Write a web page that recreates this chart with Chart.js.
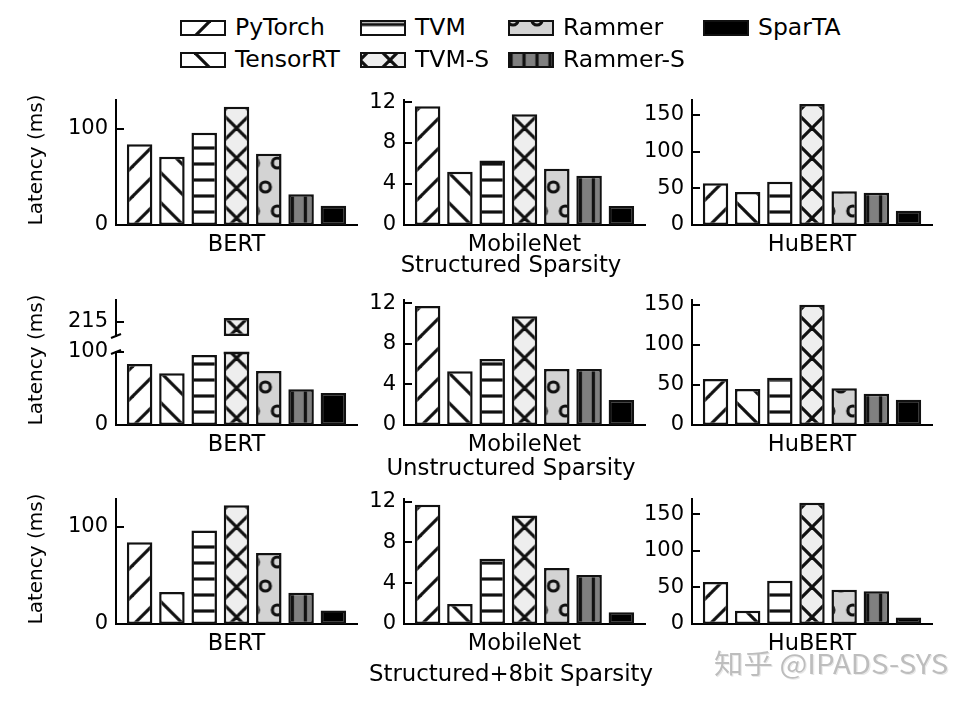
<!DOCTYPE html>
<html>
<head>
<meta charset="utf-8">
<script src="https://cdn.jsdelivr.net/npm/chart.js@4.4.0/dist/chart.umd.min.js"></script>
<style>
  html, body { margin: 0; padding: 0; background: #fff; }
  #wrap { position: relative; width: 974px; height: 706px; overflow: hidden; font-family: "DejaVu Sans", sans-serif; color: #000; }
  #wrap canvas { position: absolute; }
  .txt { position: absolute; white-space: nowrap; font-size: 22.8px; line-height: 1; transform: translate(-50%, -50%); }
  .ytitle { font-size: 20px; transform: translate(-50%, -50%) rotate(-90deg); }
  .leg { position: absolute; white-space: nowrap; font-size: 23.5px; line-height: 1; transform: translateY(-50%); }
  .mark { position: absolute; white-space: nowrap; font-family: "Noto Sans CJK SC", sans-serif; font-size: 27px; line-height: 1;
          color: #bdbdbd; text-shadow: 0 0 2px #fff, 1px 1px 0 #e2e2e2; transform-origin: 0 50%; transform: translateY(-50%) scaleX(1.09); }
</style>
</head>
<body>
<div id="wrap"></div>
<script>
const methods = ['PyTorch', 'TensorRT', 'TVM', 'TVM-S', 'Rammer', 'Rammer-S', 'SparTA'];
const models = ['BERT', 'MobileNet', 'HuBERT'];
const settings = ['Structured Sparsity', 'Unstructured Sparsity', 'Structured+8bit Sparsity'];

// latency (ms), one value per method
const structBERT = [84, 71, 96, 123, 74, 32, 20];
const structMobileNet = [11.6, 5.2, 6.3, 10.8, 5.5, 4.8, 1.85];
const structHuBERT = [57, 45, 59, 165, 46, 44, 19.5];

const unstructBERT = [83.5, 71, 96, 220, 74, 49, 44];
const unstructMobileNet = [11.7, 5.3, 6.5, 10.7, 5.5, 5.5, 2.45];
const unstructHuBERT = [57.5, 45, 59, 150, 46, 39, 31.6];

const int8BERT = [84, 33, 96, 122, 73, 32, 14];
const int8MobileNet = [11.7, 1.95, 6.4, 10.65, 5.5, 4.8, 1.15];
const int8HuBERT = [57.5, 18, 59, 166, 47, 44.7, 9];

// tick labels
const ticksBERT = [0, 100];
const ticksMobileNet = [0, 4, 8, 12];
const ticksHuBERT = [0, 50, 100, 150];
const ticksBERTUpper = [215];

// axis ranges
const yMaxStruct = [130, 12.2, 170.5];
const yMaxUnstruct = [100, 12.3, 156];
const yMaxInt8 = [128.5, 12.26, 171];
const yRangeUpper = [195.3, 244.8];

// styles
const hatches = ['/', '\\', '-', 'x', 'o', '|', ''];
const fills = ['#ffffff', '#ffffff', '#ffffff', '#eeeeee', '#d3d3d3', '#808080', '#000000'];

Chart.defaults.font.family = 'DejaVu Sans';
Chart.defaults.color = '#000';

const wrap = document.getElementById('wrap');

// hatch tiles
function makeTile(w, h, fill, draw) {
    const c = document.createElement('canvas');
    c.width = w; c.height = h;
    const g = c.getContext('2d');
    g.fillStyle = fill;
    g.fillRect(0, 0, w, h);
    g.strokeStyle = '#111';
    g.lineWidth = 3.2;
    draw(g);
    return c;
}
function slash(g) {
    [0, 30, 60].forEach(c => { g.beginPath(); g.moveTo(c + 5, -5); g.lineTo(-5, c + 5); g.stroke(); });
}
function backslash(g) {
    [-30, 0, 30].forEach(c => { g.beginPath(); g.moveTo(c - 5, -5); g.lineTo(c + 35, 35); g.stroke(); });
}
const tiles = {
    '/': { canvas: makeTile(30, 30, fills[0], slash), anchor: (l, b, w) => [l + 7, b] },
    '\\': { canvas: makeTile(30, 30, fills[1], backslash), anchor: (l, b, w) => [l + 24, b] },
    '-': { canvas: makeTile(16, 16, fills[2], g => { g.beginPath(); g.moveTo(0, 8); g.lineTo(16, 8); g.stroke(); }),
           anchor: (l, b, w) => [l, b - 21] },
    'x': { canvas: makeTile(30, 30, fills[3], g => { slash(g); backslash(g); }), anchor: (l, b, w) => [l + w / 2, b - 7] },
    'o': { canvas: makeTile(24, 48, fills[4], g => {
               [[0, 0], [24, 0], [0, 48], [24, 48], [12, 24]].forEach(p => {
                   g.beginPath(); g.arc(p[0], p[1], 5, 0, Math.PI * 2); g.stroke();
               });
           }), anchor: (l, b, w) => [l - 2.7, b - 14] },
    '|': { canvas: makeTile(13, 13, fills[5], g => { g.beginPath(); g.moveTo(6.5, 0); g.lineTo(6.5, 13); g.stroke(); }),
           anchor: (l, b, w) => [l + 4 - 6.5, b] }
};

const hatchPlugin = {
    id: 'hatch',
    beforeDatasetsDraw(chart) {
        chart.data.datasets.forEach((ds, i) => {
            const t = tiles[ds.hatch];
            if (!t) return;
            chart.getDatasetMeta(i).data.forEach(bar => {
                const pat = chart.ctx.createPattern(t.canvas, 'repeat');
                const a = t.anchor(bar.x - bar.width / 2, bar.base, bar.width);
                pat.setTransform(new DOMMatrix([1, 0, 0, 1, a[0], a[1]]));
                bar.options.backgroundColor = pat;
            });
        });
    }
};

// inward tick marks, axis break marks, cap line on bars cut by the break
const axisMarks = {
    id: 'axisMarks',
    afterDraw(chart, args, opts) {
        const ctx = chart.ctx, y = chart.scales.y, area = chart.chartArea, L = area.left;
        ctx.save();
        ctx.strokeStyle = '#000';
        ctx.lineWidth = 2;
        y.ticks.forEach(t => {
            const py = Math.round(y.getPixelForValue(t.value));
            ctx.beginPath(); ctx.moveTo(L, py); ctx.lineTo(L + 8, py); ctx.stroke();
        });
        if (opts.brk) {
            const Y = opts.brk === 'top' ? area.top : area.bottom;
            ctx.beginPath(); ctx.moveTo(L - 5, Y + 2); ctx.lineTo(L + 5, Y - 2); ctx.stroke();
        }
        if (opts.brk === 'top') {
            chart.data.datasets.forEach((ds, i) => {
                chart.getDatasetMeta(i).data.forEach(bar => {
                    if (bar.y < area.top) {
                        ctx.strokeStyle = '#111';
                        ctx.lineWidth = 2.5;
                        ctx.beginPath();
                        ctx.moveTo(bar.x - bar.width / 2, area.top + 1);
                        ctx.lineTo(bar.x + bar.width / 2, area.top + 1);
                        ctx.stroke();
                    }
                });
            });
        }
        ctx.restore();
    }
};

const padL = 80, padT = 26, padR = 10, xH = 40;

function makePanel(o) {
    const h = o.bottom - o.top;
    const padB = o.showX ? 0 : 26;
    const cv = document.createElement('canvas');
    cv.width = padL + o.width + padR;
    cv.height = padT + h + (o.showX ? xH : 0) + padB;
    cv.style.left = (o.x - padL) + 'px';
    cv.style.top = (o.top - padT) + 'px';
    wrap.appendChild(cv);

    const datasets = methods.map((m, i) => {
        const ds = {
            label: m,
            data: [o.values[i]],
            hatch: hatches[i],
            backgroundColor: () => fills[i],
            borderColor: '#111',
            borderWidth: 2.5,
            borderSkipped: false,
            categoryPercentage: 0.938,
            barPercentage: 0.79
        };
        if (o.baseAt === i) ds.base = o.yMin;
        return ds;
    });

    return new Chart(cv, {
        type: 'bar',
        data: { labels: [o.model], datasets },
        options: {
            responsive: false,
            animation: false,
            events: [],
            layout: { padding: { top: padT, right: padR, left: 0, bottom: padB } },
            plugins: {
                legend: { display: false },
                tooltip: { enabled: false },
                axisMarks: { brk: o.brk }
            },
            scales: {
                x: {
                    display: o.showX,
                    grid: { display: false, drawTicks: false },
                    border: { display: true, color: '#000', width: 2 },
                    ticks: { font: { size: 22.5 }, color: '#000', padding: 7 },
                    afterFit: s => { if (o.showX) s.height = xH; }
                },
                y: {
                    min: o.yMin,
                    max: o.yMax,
                    grid: { display: false, drawTicks: false },
                    border: { display: true, color: '#000', width: 2 },
                    ticks: { font: { size: 21 }, color: '#000', padding: 8, callback: v => v },
                    afterBuildTicks: s => { s.ticks = o.ticks.map(v => ({ value: v })); },
                    afterFit: s => { s.width = padL; }
                }
            }
        },
        plugins: [hatchPlugin, axisMarks]
    });
}

const colX = [116, 404, 692];
const plotW = [241, 241, 240];
const rowTop = [100, 300, 499];
const rowZero = [225, 425, 624];
const colTicks = [ticksBERT, ticksMobileNet, ticksHuBERT];
const rows = [
    { values: [structBERT, structMobileNet, structHuBERT], ymax: yMaxStruct },
    { values: [unstructBERT, unstructMobileNet, unstructHuBERT], ymax: yMaxUnstruct },
    { values: [int8BERT, int8MobileNet, int8HuBERT], ymax: yMaxInt8 }
];

rows.forEach((row, r) => {
    models.forEach((model, c) => {
        if (r === 1 && c === 0) {
            // broken axis: lower part 0..100, upper part around 215
            makePanel({ x: colX[c], width: plotW[c], top: 352, bottom: rowZero[r], model,
                        values: row.values[c], yMin: 0, yMax: row.ymax[c], ticks: colTicks[c],
                        showX: true, brk: 'top' });
            makePanel({ x: colX[c], width: plotW[c], top: rowTop[r], bottom: 336, model,
                        values: row.values[c], yMin: yRangeUpper[0], yMax: yRangeUpper[1], ticks: ticksBERTUpper,
                        showX: false, brk: 'bottom', baseAt: 3 });
            return;
        }
        makePanel({ x: colX[c], width: plotW[c], top: rowTop[r], bottom: rowZero[r], model,
                    values: row.values[c], yMin: 0, yMax: row.ymax[c], ticks: colTicks[c], showX: true });
    });
});

function addText(cls, text, x, y) {
    const d = document.createElement('div');
    d.className = cls;
    d.textContent = text;
    d.style.left = x + 'px';
    d.style.top = y + 'px';
    wrap.appendChild(d);
    return d;
}

// sparsity captions and y titles
const captionY = [263.5, 467, 672.5];
const yTitleY = [160, 360, 559];
settings.forEach((s, r) => {
    addText('txt', s, 511, captionY[r]);
    addText('txt ytitle', 'Latency (ms)', 35, yTitleY[r]);
});

// legend
const legendSlots = [[180, 20], [180, 52], [360, 20], [360, 52], [508, 20], [508, 52], [703, 20]];
const legendAnchors = { '/': [31, 0], '\\': [14, 0], '-': [0, -3.5], 'x': [30, 8], 'o': [5, 0], '|': [9.5, 0] };
methods.forEach((m, i) => {
    const [lx, ly] = legendSlots[i];
    const sw = document.createElement('canvas');
    sw.width = 46; sw.height = 16;
    sw.style.left = lx + 'px';
    sw.style.top = ly + 'px';
    wrap.appendChild(sw);
    const g = sw.getContext('2d');
    const t = tiles[hatches[i]];
    if (t) {
        const pat = g.createPattern(t.canvas, 'repeat');
        const a = legendAnchors[hatches[i]];
        pat.setTransform(new DOMMatrix([1, 0, 0, 1, a[0], a[1]]));
        g.fillStyle = pat;
    } else {
        g.fillStyle = fills[i];
    }
    g.fillRect(0, 0, 46, 16);
    g.strokeStyle = '#111';
    g.lineWidth = 2;
    g.strokeRect(1, 1, 44, 14);
    addText('leg', m, lx + 55, ly + 8);
});

addText('mark', '知乎 @IPADS-SYS', 714, 662);
</script>
</body>
</html>
